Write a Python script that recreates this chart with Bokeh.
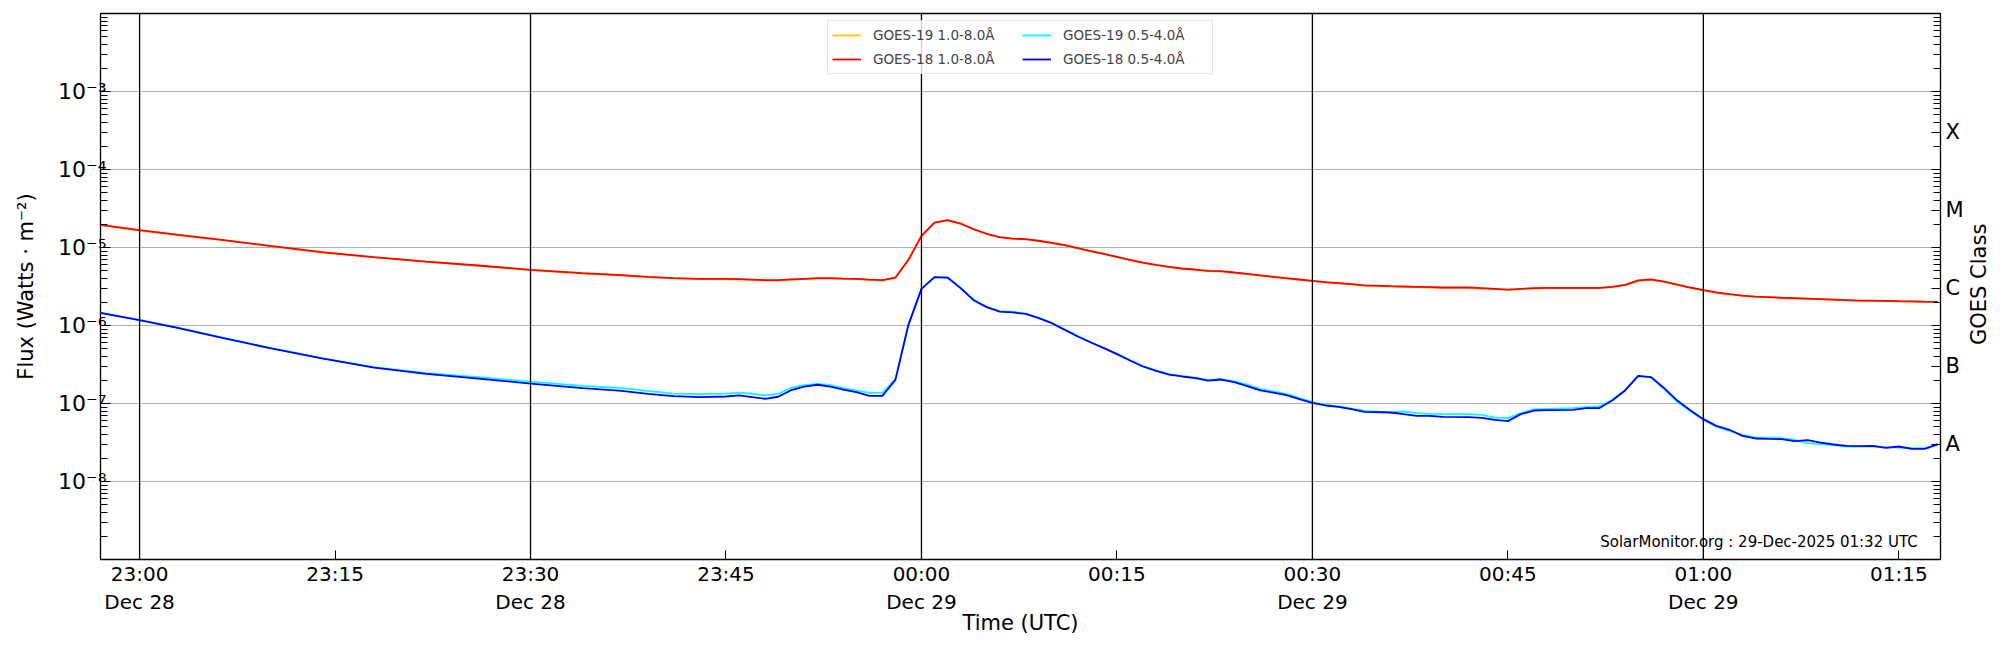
from bokeh.plotting import figure
from bokeh.layouts import row
from bokeh.models import (FixedTicker, CustomJSTickFormatter, LogAxis, Span, Label,
                          Legend, LegendItem)
from bokeh.core.properties import value
from bokeh.embed import file_html
from bokeh.resources import INLINE
import math

# ---- data (UTC times, 28-29 Dec 2025) ----
times = ["22:57", "23:00", "23:03", "23:06", "23:10", "23:14", "23:18", "23:22", "23:26", "23:30",
         "23:34", "23:37", "23:39", "23:41", "23:43", "23:45",
         "23:46", "23:47", "23:48", "23:49", "23:50", "23:51", "23:52", "23:53", "23:54", "23:55",
         "23:56", "23:57", "23:58", "23:59",
         "00:00", "00:01", "00:02", "00:03", "00:04", "00:05", "00:06", "00:07", "00:08", "00:09",
         "00:10", "00:11", "00:12", "00:13", "00:14", "00:15", "00:16", "00:17", "00:18", "00:19",
         "00:20", "00:21", "00:22", "00:23", "00:24", "00:25", "00:26", "00:27", "00:28", "00:29",
         "00:30", "00:31", "00:32", "00:33", "00:34",
         "00:36", "00:37", "00:38", "00:39", "00:40", "00:42", "00:43", "00:44", "00:45", "00:46",
         "00:47", "00:48", "00:50", "00:51", "00:52",
         "00:53", "00:54", "00:55", "00:56", "00:57", "00:58", "00:59",
         "01:00", "01:01", "01:02", "01:03", "01:04", "01:05", "01:06", "01:07", "01:08", "01:09",
         "01:10", "01:11", "01:12", "01:13", "01:14", "01:15", "01:16", "01:17", "01:18"]

goes19_long = [1.93e-5, 1.65e-5, 1.43e-5, 1.26e-5, 1.04e-5, 8.62e-6, 7.45e-6, 6.55e-6, 5.82e-6, 5.12e-6,
               4.64e-6, 4.37e-6, 4.17e-6, 4.01e-6, 3.93e-6, 3.91e-6,
               3.89e-6, 3.84e-6, 3.77e-6, 3.77e-6, 3.86e-6, 3.93e-6, 4.00e-6, 4.00e-6, 3.96e-6, 3.93e-6,
               3.84e-6, 3.77e-6, 4.08e-6, 6.90e-6,
               1.40e-5, 2.07e-5, 2.22e-5, 2.01e-5, 1.70e-5, 1.48e-5, 1.35e-5, 1.29e-5, 1.27e-5, 1.21e-5,
               1.14e-5, 1.06e-5, 9.71e-6, 8.88e-6, 8.21e-6, 7.51e-6, 6.88e-6, 6.36e-6, 5.93e-6, 5.59e-6,
               5.33e-6, 5.17e-6, 4.97e-6, 4.92e-6, 4.73e-6, 4.55e-6, 4.34e-6, 4.17e-6, 4.00e-6, 3.85e-6,
               3.70e-6, 3.55e-6, 3.46e-6, 3.36e-6, 3.23e-6,
               3.16e-6, 3.13e-6, 3.10e-6, 3.07e-6, 3.04e-6, 3.04e-6, 2.98e-6, 2.92e-6, 2.86e-6, 2.92e-6,
               2.98e-6, 3.01e-6, 3.01e-6, 3.01e-6, 3.01e-6,
               3.10e-6, 3.29e-6, 3.74e-6, 3.85e-6, 3.62e-6, 3.32e-6, 3.04e-6,
               2.81e-6, 2.62e-6, 2.50e-6, 2.40e-6, 2.33e-6, 2.29e-6, 2.25e-6, 2.22e-6, 2.19e-6, 2.16e-6,
               2.13e-6, 2.10e-6, 2.07e-6, 2.07e-6, 2.05e-6, 2.03e-6, 2.02e-6, 2.00e-6, 1.99e-6]

goes18_long = [1.95e-5, 1.67e-5, 1.45e-5, 1.27e-5, 1.05e-5, 8.71e-6, 7.52e-6, 6.61e-6, 5.88e-6, 5.17e-6,
               4.69e-6, 4.42e-6, 4.21e-6, 4.05e-6, 3.97e-6, 3.95e-6,
               3.93e-6, 3.88e-6, 3.81e-6, 3.81e-6, 3.90e-6, 3.97e-6, 4.04e-6, 4.04e-6, 4.00e-6, 3.97e-6,
               3.88e-6, 3.81e-6, 4.12e-6, 6.95e-6,
               1.41e-5, 2.09e-5, 2.24e-5, 2.03e-5, 1.72e-5, 1.50e-5, 1.36e-5, 1.30e-5, 1.28e-5, 1.22e-5,
               1.15e-5, 1.07e-5, 9.81e-6, 8.97e-6, 8.29e-6, 7.59e-6, 6.95e-6, 6.42e-6, 5.99e-6, 5.65e-6,
               5.38e-6, 5.22e-6, 5.02e-6, 4.97e-6, 4.78e-6, 4.60e-6, 4.38e-6, 4.21e-6, 4.04e-6, 3.89e-6,
               3.74e-6, 3.59e-6, 3.49e-6, 3.39e-6, 3.26e-6,
               3.19e-6, 3.16e-6, 3.13e-6, 3.10e-6, 3.07e-6, 3.07e-6, 3.01e-6, 2.95e-6, 2.89e-6, 2.95e-6,
               3.01e-6, 3.04e-6, 3.04e-6, 3.04e-6, 3.04e-6,
               3.13e-6, 3.32e-6, 3.78e-6, 3.89e-6, 3.66e-6, 3.35e-6, 3.07e-6,
               2.84e-6, 2.65e-6, 2.52e-6, 2.42e-6, 2.35e-6, 2.31e-6, 2.27e-6, 2.24e-6, 2.21e-6, 2.18e-6,
               2.15e-6, 2.12e-6, 2.09e-6, 2.09e-6, 2.07e-6, 2.05e-6, 2.04e-6, 2.02e-6, 2.01e-6]

goes19_short = [1.45e-6, 1.17e-6, 9.30e-7, 7.20e-7, 5.15e-7, 3.80e-7, 2.93e-7, 2.45e-7, 2.18e-7, 1.91e-7,
                1.68e-7, 1.57e-7, 1.45e-7, 1.34e-7, 1.32e-7, 1.34e-7,
                1.38e-7, 1.33e-7, 1.27e-7, 1.33e-7, 1.59e-7, 1.72e-7, 1.79e-7, 1.72e-7, 1.57e-7, 1.47e-7,
                1.37e-7, 1.37e-7, 2.05e-7, 1.02e-6,
                2.95e-6, 4.17e-6, 4.12e-6, 3.05e-6, 2.14e-6, 1.74e-6, 1.53e-6, 1.49e-6, 1.42e-6, 1.25e-6,
                1.08e-6, 8.90e-7, 7.30e-7, 6.10e-7, 5.15e-7, 4.32e-7, 3.60e-7, 3.02e-7, 2.66e-7, 2.38e-7,
                2.24e-7, 2.14e-7, 2.00e-7, 2.05e-7, 1.92e-7, 1.74e-7, 1.53e-7, 1.43e-7, 1.33e-7, 1.17e-7,
                1.04e-7, 9.60e-8, 9.20e-8, 8.62e-8, 8.05e-8,
                7.67e-8, 7.90e-8, 7.52e-8, 7.37e-8, 7.30e-8, 7.30e-8, 7.16e-8, 6.61e-8, 6.49e-8, 7.52e-8,
                8.38e-8, 8.54e-8, 8.71e-8, 8.97e-8, 9.15e-8,
                1.11e-7, 1.49e-7, 2.24e-7, 2.14e-7, 1.52e-7, 1.05e-7, 7.98e-8,
                6.20e-8, 5.02e-8, 4.46e-8, 3.97e-8, 3.66e-8, 3.66e-8, 3.59e-8, 3.42e-8, 3.10e-8, 3.01e-8,
                2.92e-8, 2.81e-8, 2.81e-8, 2.81e-8, 2.76e-8, 2.73e-8, 2.68e-8, 2.68e-8, 2.95e-8]

goes18_short = [1.45e-6, 1.17e-6, 9.24e-7, 7.16e-7, 5.12e-7, 3.78e-7, 2.89e-7, 2.40e-7, 2.09e-7, 1.80e-7,
                1.57e-7, 1.45e-7, 1.33e-7, 1.24e-7, 1.21e-7, 1.23e-7,
                1.27e-7, 1.21e-7, 1.15e-7, 1.22e-7, 1.48e-7, 1.65e-7, 1.74e-7, 1.65e-7, 1.51e-7, 1.40e-7,
                1.25e-7, 1.25e-7, 2.01e-7, 1.02e-6,
                2.95e-6, 4.17e-6, 4.12e-6, 3.01e-6, 2.11e-6, 1.72e-6, 1.51e-6, 1.47e-6, 1.41e-6, 1.24e-6,
                1.07e-6, 8.80e-7, 7.23e-7, 6.05e-7, 5.12e-7, 4.29e-7, 3.56e-7, 2.98e-7, 2.62e-7, 2.35e-7,
                2.22e-7, 2.11e-7, 1.97e-7, 2.03e-7, 1.88e-7, 1.67e-7, 1.47e-7, 1.38e-7, 1.28e-7, 1.14e-7,
                1.02e-7, 9.43e-8, 9.06e-8, 8.46e-8, 7.82e-8,
                7.67e-8, 7.30e-8, 6.95e-8, 6.95e-8, 6.75e-8, 6.68e-8, 6.55e-8, 6.17e-8, 5.94e-8, 7.30e-8,
                8.13e-8, 8.21e-8, 8.29e-8, 8.71e-8, 8.71e-8,
                1.09e-7, 1.47e-7, 2.26e-7, 2.18e-7, 1.57e-7, 1.09e-7, 8.21e-8,
                6.30e-8, 5.17e-8, 4.60e-8, 3.85e-8, 3.56e-8, 3.52e-8, 3.49e-8, 3.29e-8, 3.39e-8, 3.16e-8,
                2.98e-8, 2.87e-8, 2.84e-8, 2.87e-8, 2.70e-8, 2.81e-8, 2.62e-8, 2.62e-8, 3.01e-8]

series_names = ["GOES-19 1.0-8.0Å", "GOES-18 1.0-8.0Å", "GOES-19 0.5-4.0Å", "GOES-18 0.5-4.0Å"]
series_colors = ["#FFC20E", "#FF0000", "#00FFFF", "#0000FF"]

x_tick_minutes = [0, 15, 30, 45, 60, 75, 90, 105, 120, 135]
x_tick_labels = ["23:00\nDec 28", "23:15", "23:30\nDec 28", "23:45", "00:00\nDec 29",
                 "00:15", "00:30\nDec 29", "00:45", "01:00\nDec 29", "01:15"]
hour_lines = [0, 30, 60, 90, 120]
class_ticks = [3e-8, 3e-7, 3e-6, 3e-5, 3e-4]

for arr in (goes19_long, goes18_long, goes19_short, goes18_short):
    assert len(arr) == len(times), len(arr)


def to_minutes(s):
    h, m = map(int, s.split(":"))
    v = h * 60 + m - 23 * 60
    if h < 12:
        v += 24 * 60
    return v


x = [to_minutes(s) for s in times]

FONT = "DejaVu Sans"
decades = [10.0 ** e for e in range(-9, -1)]
minors = [k * 10.0 ** e for e in range(-9, -2) for k in range(2, 10)]

FRAME_W, FRAME_H = 1840, 546
BORDER_TOP = 13
p = figure(frame_width=FRAME_W, frame_height=FRAME_H, y_axis_type="log",
           x_range=(-3, 138.2), y_range=(1e-9, 1e-2),
           output_backend="svg", toolbar_location=None,
           min_border_left=100, min_border_right=24, min_border_top=BORDER_TOP, min_border_bottom=70,
           background_fill_color="white", border_fill_color="white")
p.outline_line_color = "black"
p.outline_line_width = 1.3

# x axis
xa = p.xaxis[0]
xa.ticker = FixedTicker(ticks=x_tick_minutes, minor_ticks=[])
xa.major_label_overrides = {t: l for t, l in zip(x_tick_minutes, x_tick_labels)}
xa.major_tick_in = 9
xa.major_tick_out = 0
xa.major_tick_line_color = "black"
xa.axis_line_color = None
xa.major_label_standoff = 2
xa.major_label_text_font = FONT
xa.major_label_text_font_size = "20px"
xa.major_label_text_color = "black"
xa.axis_label = "Time (UTC)"
xa.axis_label_text_font = FONT
xa.axis_label_text_font_size = "21px"
xa.axis_label_text_font_style = "normal"
xa.axis_label_text_color = "black"
xa.axis_label_standoff = -6

# left y axis
ya = p.yaxis[0]
ya.ticker = FixedTicker(ticks=decades, minor_ticks=minors)
ya.formatter = CustomJSTickFormatter(code="""
const e = Math.round(Math.log10(tick));
const sup = {"-": "\u207b", "0": "\u2070", "1": "\u00b9", "2": "\u00b2", "3": "\u00b3",
             "4": "\u2074", "5": "\u2075", "6": "\u2076", "7": "\u2077", "8": "\u2078", "9": "\u2079"};
if (e < -8 || e > -3) { return ""; }
return "10" + String(e).split("").map(c => sup[c]).join("");
""")
ya.major_tick_in = 10
ya.major_tick_out = 0
ya.minor_tick_in = 7
ya.minor_tick_out = 0
ya.axis_line_color = None
ya.major_label_standoff = -6
ya.major_label_text_font = FONT
ya.major_label_text_font_size = "22px"
ya.major_label_text_color = "black"
ya.axis_label = "Flux (Watts \u00b7 m\u207b\u00b2)"
ya.axis_label_text_font = FONT
ya.axis_label_text_font_size = "21px"
ya.axis_label_text_font_style = "normal"
ya.axis_label_text_color = "black"
ya.axis_label_standoff = 17

# right axis with GOES classes
ra = LogAxis(ticker=FixedTicker(ticks=decades + class_ticks, minor_ticks=minors),
             formatter=CustomJSTickFormatter(code="""
const l = Math.log10(tick);
if (Math.abs(l - Math.round(l)) < 0.05) { return ""; }
const m = {"-8": "A", "-7": "B", "-6": "C", "-5": "M", "-4": "X"};
return m[String(Math.floor(l))] || "";
"""))
ra.major_tick_in = 9
ra.major_tick_out = 0
ra.minor_tick_in = 7
ra.minor_tick_out = 0
ra.axis_line_color = None
ra.major_label_standoff = 5
ra.major_label_text_font = FONT
ra.major_label_text_font_size = "21px"
ra.major_label_text_color = "black"
p.add_layout(ra, "right")

# grid
p.xgrid.visible = False
p.ygrid.ticker = FixedTicker(ticks=decades[1:-1])
p.ygrid.grid_line_color = "#b0b0b0"
p.ygrid.grid_line_width = 1.2

# vertical hour lines
for h in hour_lines:
    p.add_layout(Span(location=h, dimension="height", line_color="black", line_width=1.3))

# series
renderers = []
for vals, col in zip([goes19_long, goes18_long, goes19_short, goes18_short], series_colors):
    r = p.line(x, vals, line_color=col, line_width=1.8)
    renderers.append(r)

legend = Legend(items=[LegendItem(label=n, renderers=[r]) for n, r in zip(series_names, renderers)],
                location="top_center", ncols=2,
                label_text_font=FONT, label_text_font_size="13.5px",
                glyph_width=29, glyph_height=20, label_height=20, label_standoff=12,
                label_width=145, spacing=4, padding=4, margin=7,
                border_line_color="#cccccc", border_line_width=1,
                background_fill_alpha=0.8)
p.add_layout(legend)

p.add_layout(Label(x=136.45, y=1.7e-9, text="SolarMonitor.org : 29-Dec-2025 01:32 UTC",
                   text_align="right", text_baseline="middle",
                   text_font=FONT, text_font_size="15px", text_color="black"))

# narrow companion panel carrying the right-hand axis title, read bottom to top
SIDE_W, SIDE_H = 36, 620
side = figure(width=SIDE_W, height=SIDE_H, x_range=(0, SIDE_W), y_range=(0, SIDE_H),
              output_backend="svg", toolbar_location=None, min_border=0,
              background_fill_color="white", border_fill_color="white")
side.axis.visible = False
side.grid.visible = False
side.outline_line_color = None
side.text(x=[12], y=[SIDE_H - (BORDER_TOP + FRAME_H / 2) - 32], text=["GOES Class"],
          angle=math.pi / 2, text_align="center", text_baseline="middle",
          text_font=value(FONT), text_font_size="21px", text_color="black")

layout = row(p, side, spacing=0)

open("out.html", "w").write(file_html(layout, INLINE))
